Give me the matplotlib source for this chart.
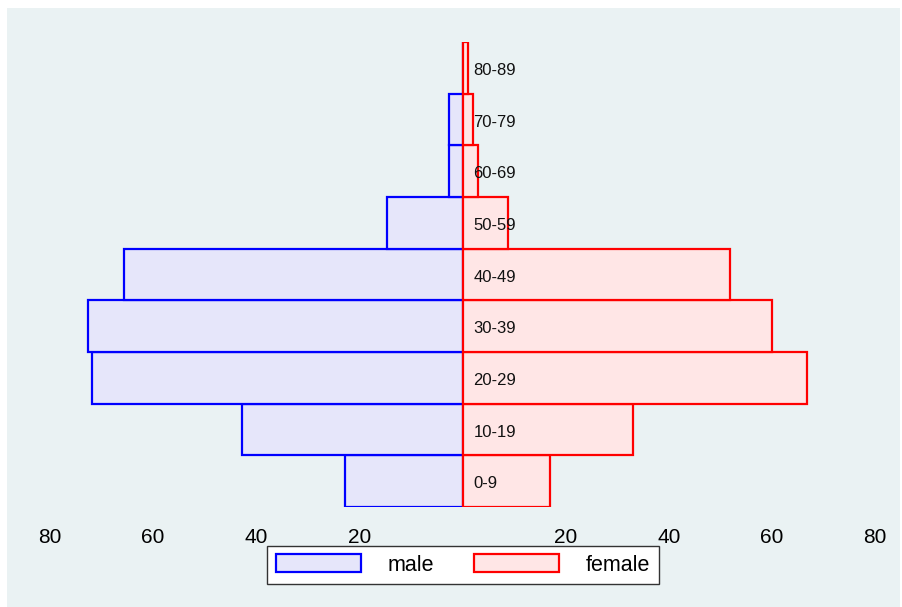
import numpy as np
import matplotlib.pyplot as plt
from matplotlib.patches import Rectangle

# age groups, bottom to top
age_groups = ["0-9", "10-19", "20-29", "30-39", "40-49", "50-59", "60-69", "70-79", "80-89"]
male = [22.7, 42.8, 71.8, 72.7, 65.7, 14.7, 2.7, 2.7, 0.0]
female = [17.0, 33.0, 66.9, 60.0, 51.9, 8.9, 3.0, 2.0, 1.0]

tick_pos = [-80, -60, -40, -20, 20, 40, 60, 80]
tick_lbl = ["80", "60", "40", "20", "20", "40", "60", "80"]

plt.rcParams['font.family'] = ['Liberation Sans', 'DejaVu Sans']

W, H = 902, 607
fig = plt.figure(figsize=(W / 100, H / 100), dpi=100, facecolor="white")
bg = "#eaf2f3"
fig.patches.append(Rectangle((7 / W, 0), (900 - 7) / W, (H - 8) / H,
                             transform=fig.transFigure, facecolor=bg,
                             edgecolor="none", zorder=-10))

# axes placed so that -80..80 spans px 50..875 and bars span px 42..507
ax = fig.add_axes([50 / W, 1 - 507 / H, 825 / W, (507 - 42) / H])
ax.set_facecolor("none")

y = np.arange(len(age_groups)) + 0.5
ax.barh(y, -np.array(male), height=1.0, color="#e6e6fa", edgecolor="#0000ff",
        linewidth=1.6, label="male")
ax.barh(y, female, height=1.0, color="#ffe6e6", edgecolor="#ff0000",
        linewidth=1.6, label="female")

# age labels sit just right of the centre line, a touch below bar middle
for yy, g in zip(y, age_groups):
    ax.text(2.1, yy - 0.05, g, ha="left", va="center", fontsize=12, color="#111111")

ax.set_xlim(-80, 80)
ax.set_ylim(0, 9)
ax.set_xticks(tick_pos)
ax.set_xticklabels(tick_lbl, fontsize=15)
ax.set_yticks([])
ax.tick_params(axis="x", length=0, pad=15)
for s in ax.spines.values():
    s.set_visible(False)

leg = fig.legend(loc="center", bbox_to_anchor=(463 / W, 1 - 565 / H), ncol=2,
                 fontsize=15.5, handlelength=3.95, handleheight=0.88,
                 handletextpad=1.25, columnspacing=1.85, fancybox=False,
                 framealpha=1, borderpad=0.4)
leg.get_frame().set_edgecolor("#333333")
leg.get_frame().set_linewidth(1.0)

fig.savefig("out.png", dpi=100, facecolor="white")
